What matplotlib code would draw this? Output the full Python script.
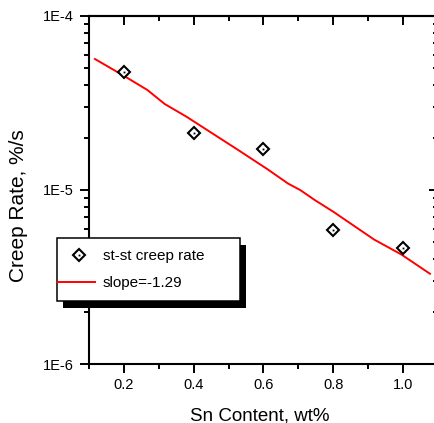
import numpy as np
import matplotlib
matplotlib.use("Agg")
import matplotlib.pyplot as plt
from matplotlib.ticker import FixedLocator, FixedFormatter, MultipleLocator, NullFormatter, LogLocator
from matplotlib.legend_handler import HandlerLine2D
from matplotlib.patches import Rectangle

plt.rcParams['font.family'] = ['Liberation Sans', 'DejaVu Sans']

# measured creep rate vs Sn content
sn = np.array([0.2, 0.4, 0.6, 0.8, 1.0])
rate = np.array([4.78e-5, 2.14e-5, 1.72e-5, 5.9e-6, 4.65e-6])

# fitted line
fit_x = np.array([0.117, 0.2, 0.267, 0.317, 0.379, 0.474, 0.527, 0.613, 0.67, 0.705,
                  0.746, 0.8, 0.917, 0.995, 1.077])
fit_y = np.array([5.66e-5, 4.53e-5, 3.76e-5, 3.12e-5, 2.64e-5, 1.99e-5, 1.70e-5, 1.31e-5,
                  1.09e-5, 1.0e-5, 8.78e-6, 7.5e-6, 5.19e-6, 4.26e-6, 3.3e-6])

xticks = [0.2, 0.4, 0.6, 0.8, 1.0]
xtick_labels = ["0.2", "0.4", "0.6", "0.8", "1.0"]
yticks = [1e-6, 1e-5, 1e-4]
ytick_labels = ["1E-6", "1E-5", "1E-4"]


class WideLine(HandlerLine2D):
    # line handle that runs from the frame edge up to the text
    def create_artists(self, legend, orig_handle, xdescent, ydescent, width, height, fontsize, trans):
        arts = super().create_artists(legend, orig_handle, xdescent, ydescent, width, height, fontsize, trans)
        y = arts[0].get_ydata()[0]
        arts[0].set_data([-xdescent - legend.borderpad * fontsize, width - xdescent + 0.35 * fontsize], [y, y])
        return arts


W, H = 435, 423
fig = plt.figure(figsize=(W / 100, H / 100), dpi=100)
ax = fig.add_axes([89 / W, (H - 364) / H, 349 / W, 348 / H])

line, = ax.plot(fit_x, fit_y, color='#ff0000', lw=1.4, zorder=2)
diam, = ax.plot(sn, rate, ls='none', marker='D', ms=6.2, mfc='white', mec='black', mew=1.5, zorder=3)
dot, = ax.plot(sn, rate, ls='none', marker='s', ms=1.3, mfc='black', mec='black', mew=0, zorder=4)

ax.set_yscale('log')
ax.set_xlim(0.1, 1.1)
ax.set_ylim(1e-6, 1e-4)

ax.xaxis.set_major_locator(FixedLocator(xticks))
ax.xaxis.set_major_formatter(FixedFormatter(xtick_labels))
ax.xaxis.set_minor_locator(MultipleLocator(0.1))
ax.yaxis.set_major_locator(FixedLocator(yticks))
ax.yaxis.set_major_formatter(FixedFormatter(ytick_labels))
ax.yaxis.set_minor_locator(LogLocator(base=10, subs=np.arange(2, 10)))
ax.yaxis.set_minor_formatter(NullFormatter())

for s in ax.spines.values():
    s.set_linewidth(1.5)

ax.tick_params(which='major', direction='out', length=6.5, width=1.4, labelsize=10.5, color='black')
ax.tick_params(which='minor', direction='out', length=3.5, width=1.4)
ax.tick_params(axis='x', which='major', pad=3.5)
ax.tick_params(axis='y', which='major', pad=4.5)

# inward ticks on top and right
top = ax.secondary_xaxis('top')
top.xaxis.set_major_locator(FixedLocator(xticks))
top.xaxis.set_minor_locator(MultipleLocator(0.1))
top.tick_params(which='major', direction='in', length=6.5, width=1.4, labeltop=False)
top.tick_params(which='minor', direction='in', length=3.5, width=1.4)
top.spines['top'].set_linewidth(1.5)

right = ax.secondary_yaxis('right')
right.set_yscale('log')
right.yaxis.set_major_locator(FixedLocator(yticks))
right.yaxis.set_minor_locator(LogLocator(base=10, subs=np.arange(2, 10)))
right.yaxis.set_minor_formatter(NullFormatter())
right.tick_params(which='major', direction='in', length=6.5, width=1.4, labelright=False)
right.tick_params(which='minor', direction='in', length=3.5, width=1.4)

ax.set_ylabel("Creep Rate, %/s", fontsize=15)
ax.yaxis.set_label_coords((28 - 89) / 349, (364 - 206) / 348)
ax.set_xlabel("Sn Content, wt%", fontsize=13.5)
ax.xaxis.set_label_coords((260 - 89) / 349, (364 - 407) / 348)
ax.xaxis.label.set_va('top')

leg = ax.legend([(diam, dot), line], ["st-st creep rate", "slope=-1.29"],
                handler_map={line: WideLine()},
                loc='upper left', mode='expand',
                bbox_to_anchor=(57 / W, (H - 300) / H, 183 / W, 62 / H),
                bbox_transform=fig.transFigure, borderaxespad=0,
                fontsize=11, frameon=True, fancybox=False, framealpha=1,
                edgecolor='black', borderpad=0.72, labelspacing=0.85,
                handlelength=1.4, handletextpad=0.88)
leg.get_frame().set_linewidth(1.1)
leg.set_zorder(6)

# hard black drop shadow behind the legend
fig.canvas.draw()
bb = leg.get_window_extent()
shadow = Rectangle((bb.x0 + 6, bb.y0 - 7), bb.width, bb.height, transform=None,
                   facecolor='black', edgecolor='none', zorder=5.5, clip_on=False)
ax.add_artist(shadow)

fig.savefig("out.png", dpi=100)
